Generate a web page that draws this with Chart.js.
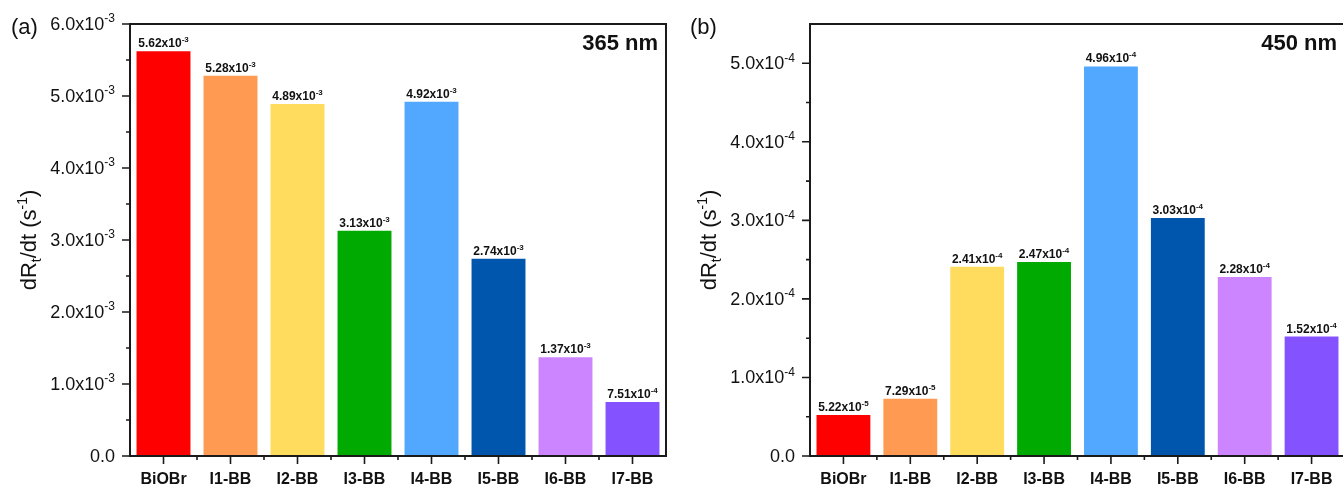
<!DOCTYPE html>
<html>
<head>
<meta charset="utf-8">
<script src="https://cdn.jsdelivr.net/npm/chart.js@4.4.0/dist/chart.umd.min.js"></script>
<style>
    html, body { margin: 0; padding: 0; background: #fff; overflow: hidden; width: 1343px; height: 486px; }
    .panel { position: absolute; top: 0; height: 486px; }
    #wrap-a { left: 0; width: 670px; }
    #wrap-b { left: 670px; width: 680px; }
</style>
</head>
<body>
<div class="panel" id="wrap-a"><canvas id="chart-a" width="670" height="486"></canvas></div>
<div class="panel" id="wrap-b"><canvas id="chart-b" width="680" height="486"></canvas></div>
<script>
// Данные
const categories = ['BiOBr', 'I1-BB', 'I2-BB', 'I3-BB', 'I4-BB', 'I5-BB', 'I6-BB', 'I7-BB'];
const barColors = ['#ff0000', '#ff9a52', '#ffdc5e', '#00aa00', '#52a8ff', '#0055ad', '#cd85ff', '#8552ff'];

const values365 = [5.62e-3, 5.28e-3, 4.89e-3, 3.13e-3, 4.92e-3, 2.74e-3, 1.37e-3, 7.51e-4];
const values450 = [5.22e-5, 7.29e-5, 2.41e-4, 2.47e-4, 4.96e-4, 3.03e-4, 2.28e-4, 1.52e-4];

const yTicks365 = [0, 1e-3, 2e-3, 3e-3, 4e-3, 5e-3, 6e-3];
const yTicks450 = [0, 1e-4, 2e-4, 3e-4, 4e-4, 5e-4];

const FONT = '"Liberation Sans", Arial, sans-serif';

// "5.62x10" + показатель степени
function splitExp(v, digits) {
    if (v === 0) return ['0.0', ''];
    const parts = v.toExponential(digits).split('e');
    return [parts[0] + 'x10', String(parseInt(parts[1]))];
}

// текст с верхним индексом
function drawSup(ctx, base, exp, x, y, size, supSize, bold, align) {
    const w = bold ? 'bold ' : '';
    ctx.font = w + size + 'px ' + FONT;
    const bw = ctx.measureText(base).width;
    ctx.font = w + supSize + 'px ' + FONT;
    const ew = exp ? ctx.measureText(exp).width : 0;
    const total = bw + ew;
    let x0 = x;
    if (align === 'center') x0 = x - total / 2;
    if (align === 'right') x0 = x - total;
    ctx.textAlign = 'left';
    ctx.textBaseline = 'alphabetic';
    ctx.font = w + size + 'px ' + FONT;
    ctx.fillText(base, x0, y);
    if (exp) {
        ctx.font = w + supSize + 'px ' + FONT;
        ctx.fillText(exp, x0 + bw, y - size * 0.42);
    }
}

function makePanel(canvasId, values, yMax, yTicks, opts) {
    const decorPlugin = {
        id: 'decor',
        afterDatasetsDraw(chart) {
            const ctx = chart.ctx;
            const ca = chart.chartArea;
            const xs = chart.scales.x;
            const ys = chart.scales.y;
            ctx.save();
            ctx.fillStyle = '#111';
            ctx.strokeStyle = '#1a1a1a';

            // подписи над столбцами
            values.forEach((v, i) => {
                const [base, exp] = splitExp(v, 2);
                const x = xs.getPixelForValue(i);
                const y = ys.getPixelForValue(v) - 4;
                drawSup(ctx, base, exp, x, y, 12, 8, true, 'center');
            });

            // рамка
            ctx.lineWidth = 2;
            ctx.strokeRect(ca.left, ca.top, ca.right - ca.left, ca.bottom - ca.top);

            // деления по X
            ctx.lineWidth = 1.6;
            ctx.beginPath();
            categories.forEach((c, i) => {
                const x = xs.getPixelForValue(i);
                ctx.moveTo(x, ca.bottom);
                ctx.lineTo(x, ca.bottom + 8);
                if (i < categories.length - 1) {
                    const xm = (x + xs.getPixelForValue(i + 1)) / 2;
                    ctx.moveTo(xm, ca.bottom);
                    ctx.lineTo(xm, ca.bottom + 4);
                }
            });
            // деления по Y
            yTicks.forEach((t, i) => {
                const y = ys.getPixelForValue(t);
                ctx.moveTo(ca.left - 8, y);
                ctx.lineTo(ca.left, y);
                if (i < yTicks.length - 1) {
                    const ym = ys.getPixelForValue((t + yTicks[i + 1]) / 2);
                    ctx.moveTo(ca.left - 4, ym);
                    ctx.lineTo(ca.left, ym);
                }
            });
            ctx.stroke();

            // подписи категорий
            ctx.font = 'bold 16px ' + FONT;
            ctx.textAlign = 'center';
            ctx.textBaseline = 'alphabetic';
            categories.forEach((c, i) => {
                ctx.fillText(c, xs.getPixelForValue(i), ca.bottom + 28);
            });

            // подписи оси Y
            yTicks.forEach(t => {
                const [base, exp] = splitExp(t, 1);
                const y = ys.getPixelForValue(t) + 6;
                drawSup(ctx, base, exp, ca.left - 15, y, 18, 12, false, 'right');
            });

            // заголовок оси Y: dR_t/dt (s^-1)
            ctx.save();
            ctx.translate(opts.titleX, (ca.top + ca.bottom) / 2);
            ctx.rotate(-Math.PI / 2);
            const pieces = [
                ['dR', 22, 0], ['t', 14, 5], ['/dt (s', 22, 0], ['-1', 14, -9], [')', 22, 0]
            ];
            let total = 0;
            pieces.forEach(p => {
                ctx.font = p[1] + 'px ' + FONT;
                p.push(ctx.measureText(p[0]).width);
                total += p[3];
            });
            let px = -total / 2;
            ctx.textAlign = 'left';
            pieces.forEach(p => {
                ctx.font = p[1] + 'px ' + FONT;
                ctx.fillText(p[0], px, 8 + p[2]);
                px += p[3];
            });
            ctx.restore();

            // метка панели и длина волны
            ctx.font = '22px ' + FONT;
            ctx.textAlign = 'left';
            ctx.fillText(opts.label, opts.labelX, 34);
            ctx.font = 'bold 22px ' + FONT;
            ctx.textAlign = 'right';
            ctx.fillText(opts.wave, ca.right - 8, 50);

            ctx.restore();
        }
    };

    return new Chart(document.getElementById(canvasId), {
        type: 'bar',
        data: {
            labels: categories,
            datasets: [{
                data: values,
                backgroundColor: barColors,
                borderWidth: 0,
                categoryPercentage: 0.805,
                barPercentage: 1.0
            }]
        },
        options: {
            responsive: false,
            animation: false,
            devicePixelRatio: 1,
            layout: { padding: { top: 24, right: opts.rightPad, left: 0, bottom: 0 } },
            plugins: {
                legend: { display: false },
                tooltip: { enabled: false }
            },
            scales: {
                x: {
                    grid: { display: false },
                    border: { display: false },
                    ticks: { display: false },
                    afterFit: s => { s.height = 30; }
                },
                y: {
                    min: 0,
                    max: yMax,
                    grid: { display: false },
                    border: { display: false },
                    ticks: { display: false },
                    afterFit: s => { s.width = opts.left; }
                }
            }
        },
        plugins: [decorPlugin]
    });
}

makePanel('chart-a', values365, 6e-3, yTicks365,
    { left: 130, rightPad: 4, titleX: 28, label: '(a)', labelX: 11, wave: '365 nm' });
makePanel('chart-b', values450, 5.5e-4, yTicks450,
    { left: 140, rightPad: 5, titleX: 38, label: '(b)', labelX: 20, wave: '450 nm' });
</script>
</body>
</html>
